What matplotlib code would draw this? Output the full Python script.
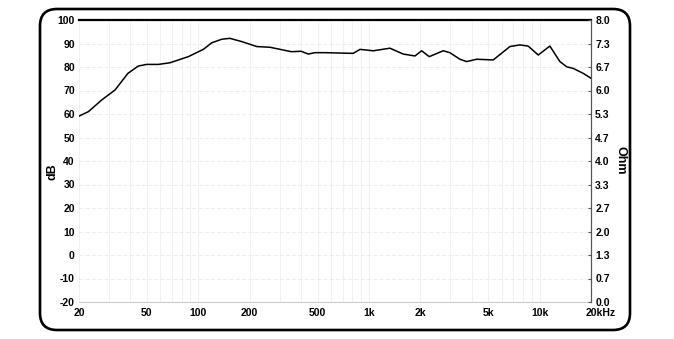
import matplotlib
matplotlib.use("Agg")
import matplotlib.pyplot as plt
from matplotlib.patches import FancyBboxPatch
from matplotlib.transforms import IdentityTransform, ScaledTranslation
import numpy as np

# ---- data ----
freq_hz = [20, 22.7, 27.2, 32.5, 38.7, 44.5, 49.8, 58.3, 68.2, 87.4, 107, 120, 137, 153,
           180, 220, 263, 352, 400, 441, 482, 552, 809, 886, 1060, 1327, 1588, 1860,
           2036, 2256, 2724, 2980, 3412, 3734, 4276, 5346, 6700, 7660, 8572, 9814,
           11480, 13150, 14390, 15740, 18000, 20000]
spl_db = [59.1, 61.0, 66.0, 70.2, 77.3, 80.4, 81.1, 81.1, 81.8, 84.4, 87.5, 90.3, 91.8, 92.2,
          90.8, 88.7, 88.4, 86.5, 86.7, 85.5, 86.1, 86.1, 85.8, 87.5, 86.9, 88.0, 85.5, 84.7,
          86.9, 84.4, 86.9, 86.1, 83.3, 82.3, 83.3, 83.0, 88.7, 89.4, 88.9, 85.1,
          88.9, 82.3, 80.1, 79.4, 77.3, 75.2]

x_ticks = [20, 50, 100, 200, 500, 1000, 2000, 5000, 10000, 20000]
x_labels = ["20", "50", "100", "200", "500", "1k", "2k", "5k", "10k", "20kHz"]
db_ticks = [-20, -10, 0, 10, 20, 30, 40, 50, 60, 70, 80, 90, 100]
ohm_labels = ["0.0", "0.7", "1.3", "2.0", "2.7", "3.3", "4.0", "4.7", "5.3", "6.0", "6.7", "7.3", "8.0"]

plt.rcParams['font.family'] = ['Liberation Sans', 'DejaVu Sans']
plt.rcParams['axes.unicode_minus'] = False

fig = plt.figure(figsize=(6.74, 3.39), dpi=100)
W, H = 674, 339
ax = fig.add_axes([79 / W, 1 - 302 / H, (591 - 79) / W, (302 - 20) / H])

# grid
grid_x = []
for dec in [10, 100, 1000, 10000]:
    for m in range(1, 10):
        v = m * dec
        if 20 <= v <= 20000:
            grid_x.append(v)
for gx in grid_x:
    ax.axvline(gx, color="#ebebeb", lw=0.5, zorder=0)
for gy in db_ticks:
    ax.axhline(gy, color="#e6e6e6", lw=0.5, ls=(0, (6, 3)), zorder=0)

ax.plot(freq_hz, spl_db, color="black", lw=1.1, zorder=3)

ax.set_xscale("log")
ax.set_xlim(20, 20000)
ax.set_ylim(-20, 100)
ax.set_xticks(x_ticks)
ax.set_xticklabels(x_labels)
ax.xaxis.set_minor_locator(matplotlib.ticker.NullLocator())
ax.set_yticks(db_ticks)
ax.set_yticklabels([str(v) for v in db_ticks])
ax.tick_params(axis="both", length=0, labelsize=7.5, pad=3)
ax.tick_params(axis="x", pad=4)
for lbl in ax.get_xticklabels() + ax.get_yticklabels():
    lbl.set_fontweight("bold")
last = ax.get_xticklabels()[-1]
last.set_ha("left")
last.set_transform(last.get_transform() + ScaledTranslation(-4 / 72, 0, fig.dpi_scale_trans))

ax.spines["left"].set_visible(False)
ax.spines["top"].set_linewidth(1.6)
ax.spines["top"].set_color("black")
ax.spines["bottom"].set_color("#cccccc")
ax.spines["bottom"].set_linewidth(0.8)
ax.spines["right"].set_color("#555555")
ax.spines["right"].set_linewidth(0.8)

ax2 = ax.twinx()
ax2.set_ylim(0, 8)
ax2.set_yticks(np.linspace(0, 8, 13))
ax2.set_yticklabels(ohm_labels)
ax2.tick_params(axis="y", length=2, direction="in", labelsize=7.5, pad=3, color="#555555")
for lbl in ax2.get_yticklabels():
    lbl.set_fontweight("bold")
for s in ["left", "top", "bottom"]:
    ax2.spines[s].set_visible(False)
ax2.spines["right"].set_color("#555555")
ax2.spines["right"].set_linewidth(0.8)

fig.text(52 / W, 1 - 172 / H, "dB", rotation=90, ha="center", va="center",
         fontsize=9, fontweight="bold")
fig.text(621 / W, 1 - 160 / H, "Ohm", rotation=-90, ha="center", va="center",
         fontsize=9, fontweight="bold")

frame = FancyBboxPatch((40, 9), 590, 321, boxstyle="round,pad=0,rounding_size=17",
                       transform=IdentityTransform(), fill=False, edgecolor="black", lw=1.9)
fig.add_artist(frame)

fig.savefig("out.png", dpi=100)
